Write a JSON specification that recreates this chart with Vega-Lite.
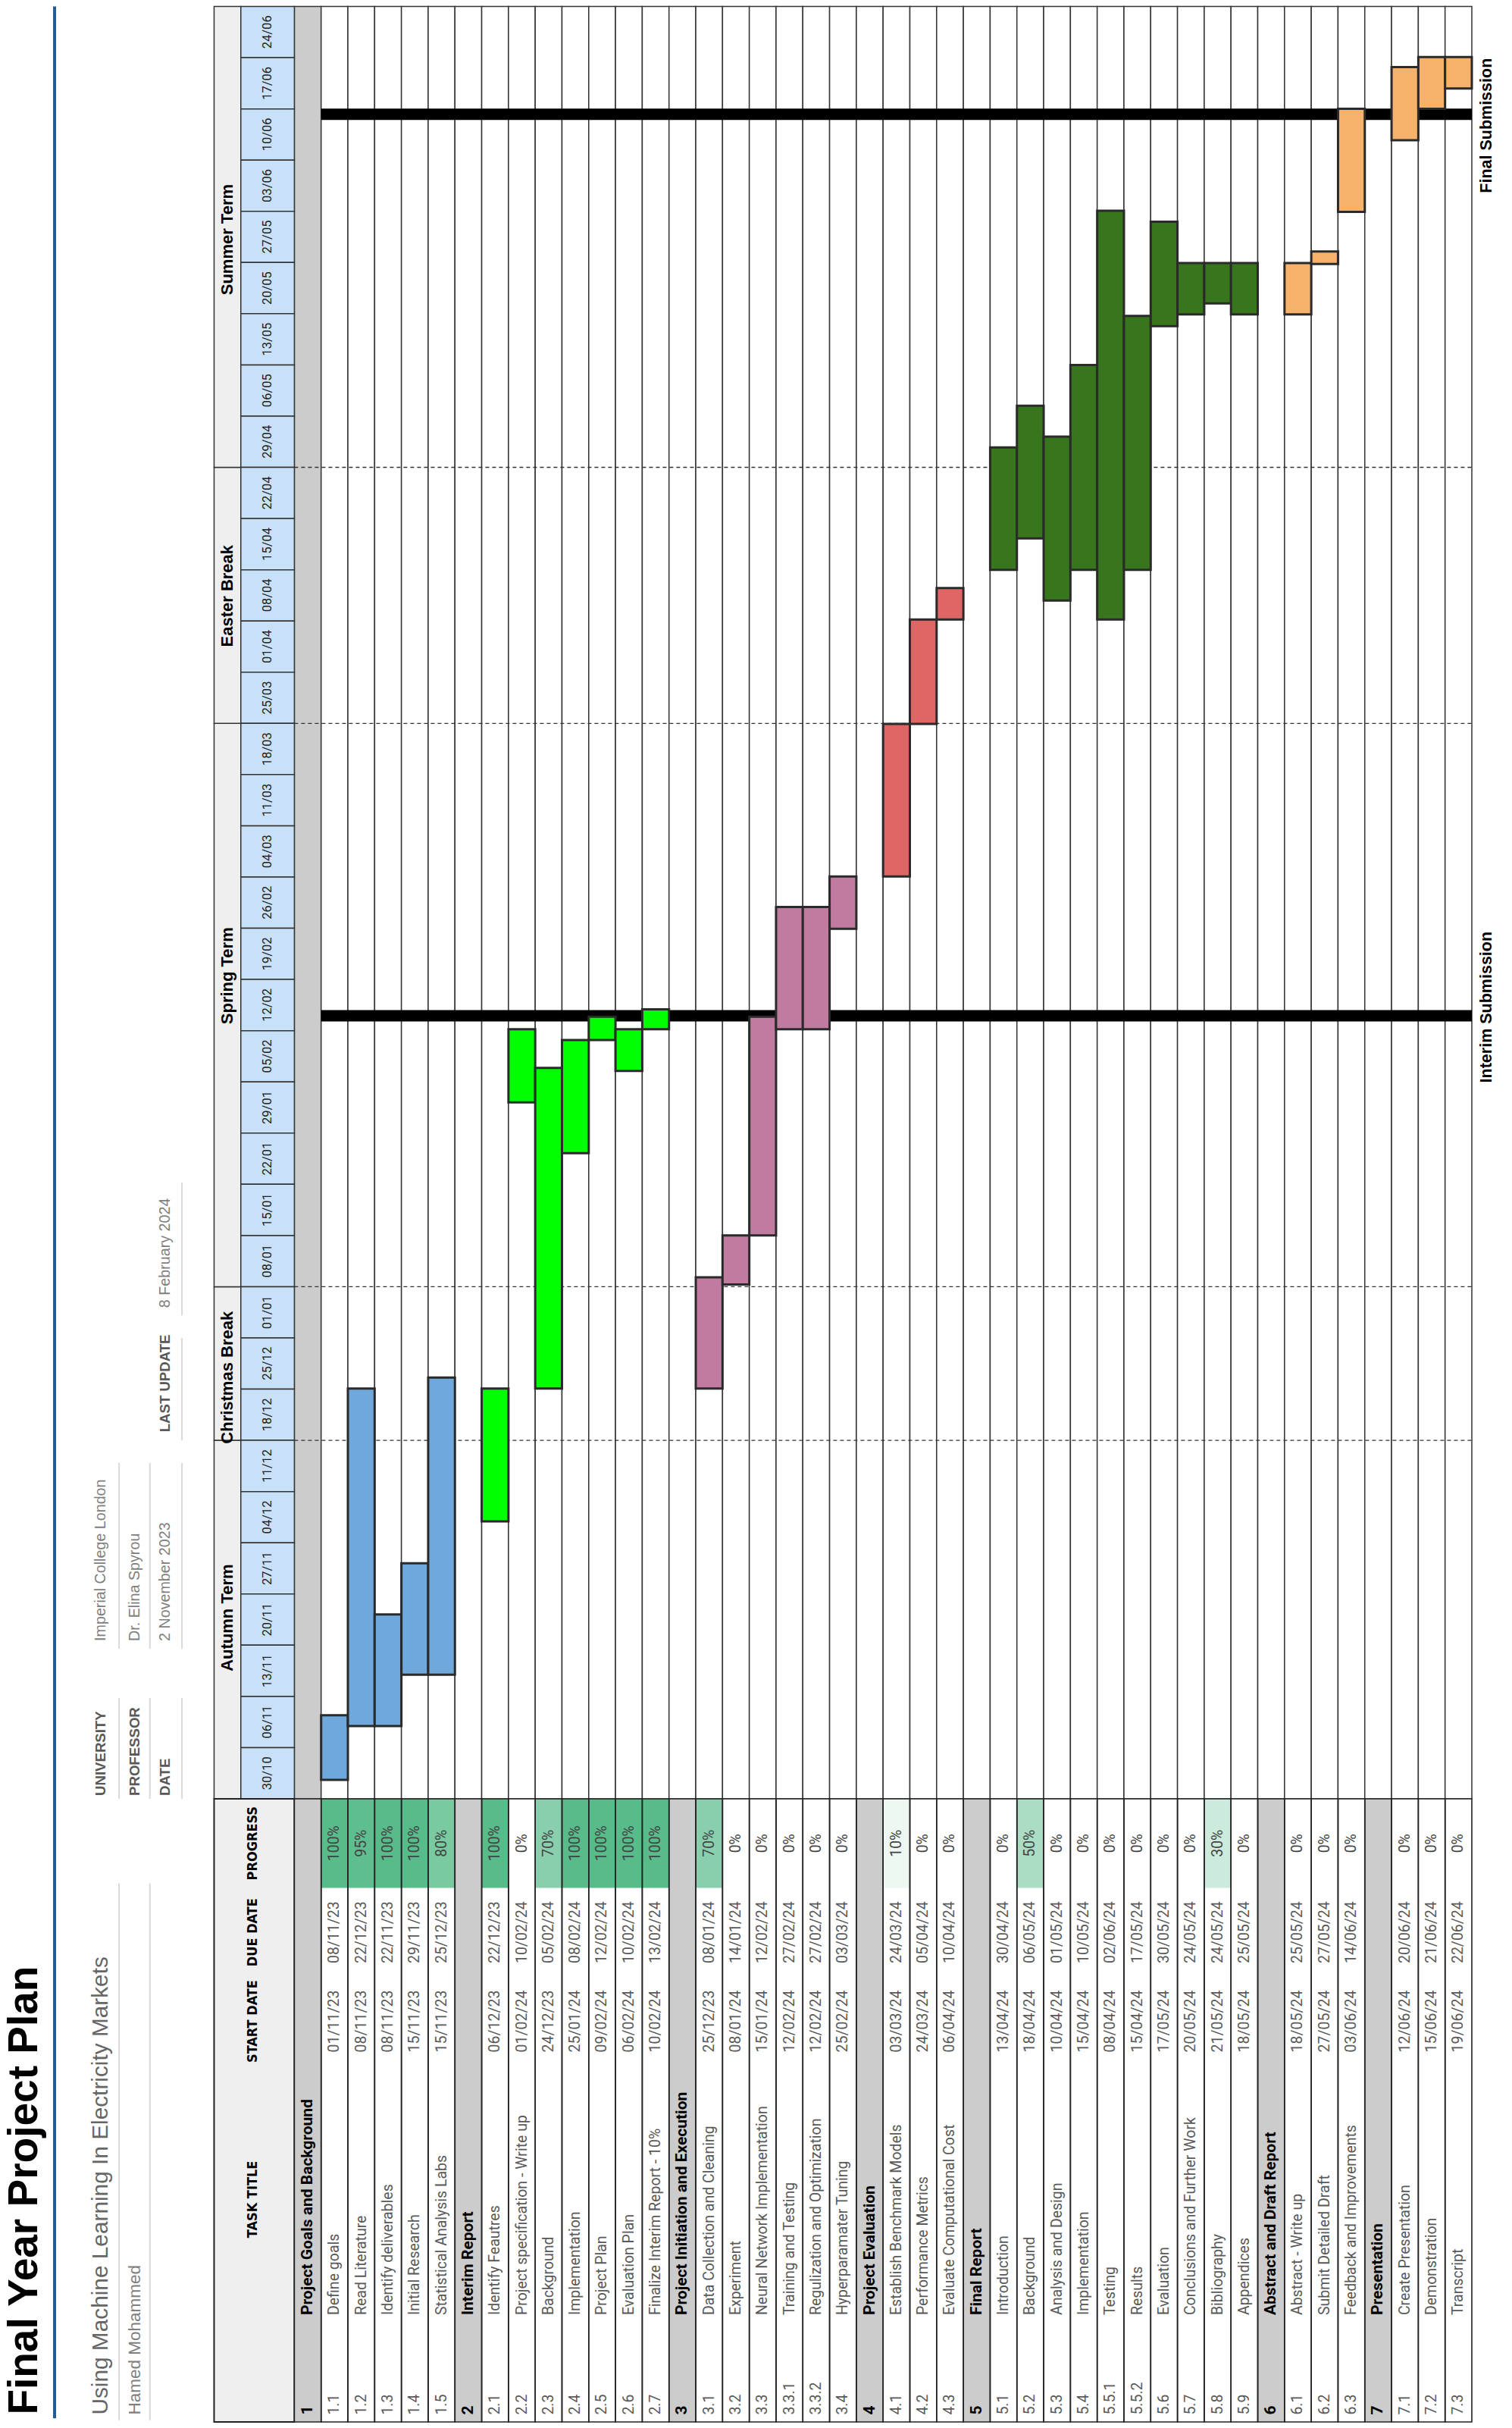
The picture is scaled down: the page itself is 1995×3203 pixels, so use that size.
{
"$schema": "https://vega.github.io/schema/vega-lite/v6.json",
"padding": 0,
"spacing": 0,
"bounds": "flush",
"background": "#ffffff",
"config": {"view": {"stroke": null}, "axis": {"disable": true}, "legend": {"disable": true}, "concat": {"spacing": 0}},
"datasets": {
"rows": [
{"id":"1","type":"section","sec":"1","title":"Project Goals and Background"},
{"id":"1.1","type":"task","sec":"1","title":"Define goals","start":"01/11/23","due":"08/11/23","prog":1,"bs":"2023-11-01T14:00:00Z","be":"2023-11-10T10:00:00Z"},
{"id":"1.2","type":"task","sec":"1","title":"Read Literature","start":"08/11/23","due":"22/12/23","prog":0.95,"bs":"2023-11-08T23:00:00Z","be":"2023-12-25T02:00:00Z"},
{"id":"1.3","type":"task","sec":"1","title":"Identify deliverables","start":"08/11/23","due":"22/11/23","prog":1,"bs":"2023-11-08T23:00:00Z","be":"2023-11-24T05:00:00Z"},
{"id":"1.4","type":"task","sec":"1","title":"Initial Research","start":"15/11/23","due":"29/11/23","prog":1,"bs":"2023-11-15T23:00:00Z","be":"2023-12-01T05:00:00Z"},
{"id":"1.5","type":"task","sec":"1","title":"Statistical Analysis Labs","start":"15/11/23","due":"25/12/23","prog":0.8,"bs":"2023-11-15T23:00:00Z","be":"2023-12-26T14:00:00Z"},
{"id":"2","type":"section","sec":"2","title":"Interim Report"},
{"id":"2.1","type":"task","sec":"2","title":"Identify Feautres","start":"06/12/23","due":"22/12/23","prog":1,"bs":"2023-12-06T22:00:00Z","be":"2023-12-25T02:00:00Z"},
{"id":"2.2","type":"task","sec":"2","title":"Project specification - Write up","start":"01/02/24","due":"10/02/24","prog":0,"bs":"2024-02-02T05:00:00Z","be":"2024-02-12T05:00:00Z"},
{"id":"2.3","type":"task","sec":"2","title":"Background","start":"24/12/23","due":"05/02/24","prog":0.7,"bs":"2023-12-25T02:00:00Z","be":"2024-02-06T22:00:00Z"},
{"id":"2.4","type":"task","sec":"2","title":"Implementation","start":"25/01/24","due":"08/02/24","prog":1,"bs":"2024-01-26T06:00:00Z","be":"2024-02-10T17:00:00Z"},
{"id":"2.5","type":"task","sec":"2","title":"Project Plan","start":"09/02/24","due":"12/02/24","prog":1,"bs":"2024-02-10T17:00:00Z","be":"2024-02-13T22:00:00Z"},
{"id":"2.6","type":"task","sec":"2","title":"Evaluation Plan","start":"06/02/24","due":"10/02/24","prog":1,"bs":"2024-02-06T12:00:00Z","be":"2024-02-12T05:00:00Z"},
{"id":"2.7","type":"task","sec":"2","title":"Finalize Interim Report - 10%","start":"10/02/24","due":"13/02/24","prog":1,"bs":"2024-02-12T05:00:00Z","be":"2024-02-14T22:00:00Z"},
{"id":"3","type":"section","sec":"3","title":"Project Initiation and Execution"},
{"id":"3.1","type":"task","sec":"3","title":"Data Collection and Cleaning","start":"25/12/23","due":"08/01/24","prog":0.7,"bs":"2023-12-25T02:00:00Z","be":"2024-01-09T07:00:00Z"},
{"id":"3.2","type":"task","sec":"3","title":"Experiment","start":"08/01/24","due":"14/01/24","prog":0,"bs":"2024-01-08T07:00:00Z","be":"2024-01-15T00:00:00Z"},
{"id":"3.3","type":"task","sec":"3","title":"Neural Network Implementation","start":"15/01/24","due":"12/02/24","prog":0,"bs":"2024-01-15T00:00:00Z","be":"2024-02-13T22:00:00Z"},
{"id":"3.3.1","type":"task","sec":"3","title":"Training and Testing","start":"12/02/24","due":"27/02/24","prog":0,"bs":"2024-02-12T05:00:00Z","be":"2024-02-28T22:00:00Z"},
{"id":"3.3.2","type":"task","sec":"3","title":"Regulization and Optimization","start":"12/02/24","due":"27/02/24","prog":0,"bs":"2024-02-12T05:00:00Z","be":"2024-02-28T22:00:00Z"},
{"id":"3.4","type":"task","sec":"3","title":"Hyperparamater Tuning","start":"25/02/24","due":"03/03/24","prog":0,"bs":"2024-02-25T22:00:00Z","be":"2024-03-04T02:00:00Z"},
{"id":"4","type":"section","sec":"4","title":"Project Evaluation"},
{"id":"4.1","type":"task","sec":"4","title":"Establish Benchmark Models","start":"03/03/24","due":"24/03/24","prog":0.1,"bs":"2024-03-04T02:00:00Z","be":"2024-03-24T22:00:00Z"},
{"id":"4.2","type":"task","sec":"4","title":"Performance Metrics","start":"24/03/24","due":"05/04/24","prog":0,"bs":"2024-03-24T22:00:00Z","be":"2024-04-08T05:00:00Z"},
{"id":"4.3","type":"task","sec":"4","title":"Evaluate Computational Cost","start":"06/04/24","due":"10/04/24","prog":0,"bs":"2024-04-08T05:00:00Z","be":"2024-04-12T12:00:00Z"},
{"id":"5","type":"section","sec":"5","title":"Final Report"},
{"id":"5.1","type":"task","sec":"5","title":"Introduction","start":"13/04/24","due":"30/04/24","prog":0,"bs":"2024-04-15T00:00:00Z","be":"2024-05-01T17:00:00Z"},
{"id":"5.2","type":"task","sec":"5","title":"Background","start":"18/04/24","due":"06/05/24","prog":0.5,"bs":"2024-04-19T07:00:00Z","be":"2024-05-07T10:00:00Z"},
{"id":"5.3","type":"task","sec":"5","title":"Analysis and Design","start":"10/04/24","due":"01/05/24","prog":0,"bs":"2024-04-10T19:00:00Z","be":"2024-05-03T05:00:00Z"},
{"id":"5.4","type":"task","sec":"5","title":"Implementation","start":"15/04/24","due":"10/05/24","prog":0,"bs":"2024-04-15T00:00:00Z","be":"2024-05-13T00:00:00Z"},
{"id":"5.5.1","type":"task","sec":"5","title":"Testing","start":"08/04/24","due":"02/06/24","prog":0,"bs":"2024-04-08T05:00:00Z","be":"2024-06-03T02:00:00Z"},
{"id":"5.5.2","type":"task","sec":"5","title":"Results","start":"15/04/24","due":"17/05/24","prog":0,"bs":"2024-04-15T00:00:00Z","be":"2024-05-19T17:00:00Z"},
{"id":"5.6","type":"task","sec":"5","title":"Evaluation","start":"17/05/24","due":"30/05/24","prog":0,"bs":"2024-05-18T07:00:00Z","be":"2024-06-01T14:00:00Z"},
{"id":"5.7","type":"task","sec":"5","title":"Conclusions and Further Work","start":"20/05/24","due":"24/05/24","prog":0,"bs":"2024-05-19T22:00:00Z","be":"2024-05-26T22:00:00Z"},
{"id":"5.8","type":"task","sec":"5","title":"Bibliography","start":"21/05/24","due":"24/05/24","prog":0.3,"bs":"2024-05-21T10:00:00Z","be":"2024-05-26T22:00:00Z"},
{"id":"5.9","type":"task","sec":"5","title":"Appendices","start":"18/05/24","due":"25/05/24","prog":0,"bs":"2024-05-19T22:00:00Z","be":"2024-05-26T22:00:00Z"},
{"id":"6","type":"section","sec":"6","title":"Abstract and Draft Report"},
{"id":"6.1","type":"task","sec":"6","title":"Abstract - Write up","start":"18/05/24","due":"25/05/24","prog":0,"bs":"2024-05-19T22:00:00Z","be":"2024-05-26T22:00:00Z"},
{"id":"6.2","type":"task","sec":"6","title":"Submit Detailed Draft","start":"27/05/24","due":"27/05/24","prog":0,"bs":"2024-05-26T19:00:00Z","be":"2024-05-28T12:00:00Z"},
{"id":"6.3","type":"task","sec":"6","title":"Feedback and Improvements","start":"03/06/24","due":"14/06/24","prog":0,"bs":"2024-06-02T22:00:00Z","be":"2024-06-17T00:00:00Z"},
{"id":"7","type":"section","sec":"7","title":"Presentation"},
{"id":"7.1","type":"task","sec":"7","title":"Create Presentation","start":"12/06/24","due":"20/06/24","prog":0,"bs":"2024-06-12T17:00:00Z","be":"2024-06-22T17:00:00Z"},
{"id":"7.2","type":"task","sec":"7","title":"Demonstration","start":"15/06/24","due":"21/06/24","prog":0,"bs":"2024-06-17T00:00:00Z","be":"2024-06-24T02:00:00Z"},
{"id":"7.3","type":"task","sec":"7","title":"Transcript","start":"19/06/24","due":"22/06/24","prog":0,"bs":"2024-06-19T19:00:00Z","be":"2024-06-24T02:00:00Z"}
],
"weeks": [{"wk":"24/06"},{"wk":"17/06"},{"wk":"10/06"},{"wk":"03/06"},{"wk":"27/05"},{"wk":"20/05"},{"wk":"13/05"},{"wk":"06/05"},{"wk":"29/04"},{"wk":"22/04"},{"wk":"15/04"},{"wk":"08/04"},{"wk":"01/04"},{"wk":"25/03"},{"wk":"18/03"},{"wk":"11/03"},{"wk":"04/03"},{"wk":"26/02"},{"wk":"19/02"},{"wk":"12/02"},{"wk":"05/02"},{"wk":"29/01"},{"wk":"22/01"},{"wk":"15/01"},{"wk":"08/01"},{"wk":"01/01"},{"wk":"25/12"},{"wk":"18/12"},{"wk":"11/12"},{"wk":"04/12"},{"wk":"27/11"},{"wk":"20/11"},{"wk":"13/11"},{"wk":"06/11"},{"wk":"30/10"}],
"periods": [
{"name":"Autumn Term","first":"30/10","last":"11/12","lbl":"2023-11-23T18:00:00Z"},
{"name":"Christmas Break","first":"18/12","last":"01/01","lbl":"2023-12-26T14:00:00Z"},
{"name":"Spring Term","first":"08/01","last":"18/03","lbl":"2024-02-19T12:00:00Z"},
{"name":"Easter Break","first":"25/03","last":"22/04","lbl":"2024-04-11T10:00:00Z"},
{"name":"Summer Term","first":"29/04","last":"24/06","lbl":"2024-05-30T03:00:00Z"}
],
"breaks": [{"w":"18/12"},{"w":"08/01"},{"w":"25/03"},{"w":"29/04"}],
"milestones": [{"label":"Interim Submission","d":"2024-02-14T01:00:00Z","ld":"2024-02-15T05:00:00Z"},{"label":"Final Submission","d":"2024-06-16T06:00:00Z","ld":"2024-06-14T17:00:00Z"}],
"info": [{"k":"UNIVERSITY","v":"Imperial College London","line":"1"},{"k":"PROFESSOR","v":"Dr. Elina Spyrou","line":"2"},{"k":"DATE","v":"2 November 2023","line":"3"},{"k":"LAST UPDATE","v":"8 February 2024","line":"4"}],
"seps": [
{"line":"1","from":"2023-10-30T00:00:00Z","to":"2023-11-12T19:00:00Z"},
{"line":"1","from":"2023-11-19T12:00:00Z","to":"2023-12-14T22:00:00Z"},
{"line":"2","from":"2023-10-30T00:00:00Z","to":"2023-11-12T19:00:00Z"},
{"line":"2","from":"2023-11-19T12:00:00Z","to":"2023-12-14T22:00:00Z"},
{"line":"3","from":"2023-10-30T00:00:00Z","to":"2023-11-12T19:00:00Z"},
{"line":"3","from":"2023-11-19T12:00:00Z","to":"2023-12-14T22:00:00Z"},
{"line":"3","from":"2023-12-18T00:00:00Z","to":"2024-01-01T00:00:00Z"},
{"line":"3","from":"2024-01-04T02:00:00Z","to":"2024-01-22T05:00:00Z"}
],
"doc": [{"title":"Final Year Project Plan","sub":"Using Machine Learning In Electricity Markets","author":"Hamed Mohammed"}],
"headers": [{"h":"PROGRESS","s":"progress"},{"h":"DUE DATE","s":"due"},{"h":"START DATE","s":"start"},{"h":"TASK TITLE","s":"t2"}]
},
"vconcat": [
{
"width": 1942, "height": 2373,
"resolve": {"scale": {"y": "independent"}},
"layer": [
{"data":{"name":"rows"},"mark":{"type":"rect","stroke":"#333333","strokeWidth":1.5},
"encoding":{"x":{"field":"id","type":"nominal","scale":{"type":"band","domain":["c0","c1","c2","c3","c4","c5","c6","c7","hP","hW1","hW2","1","1.1","1.2","1.3","1.4","1.5","2","2.1","2.2","2.3","2.4","2.5","2.6","2.7","3","3.1","3.2","3.3","3.3.1","3.3.2","3.4","4","4.1","4.2","4.3","5","5.1","5.2","5.3","5.4","5.5.1","5.5.2","5.6","5.7","5.8","5.9","6","6.1","6.2","6.3","7","7.1","7.2","7.3"],"paddingInner":0,"paddingOuter":0,"round":false}},
"y":{"datum":{"year":2023,"month":10,"date":30,"utc":true},"type":"temporal","scale":{"type":"utc","domain":[{"year":2023,"month":10,"date":30,"utc":true},{"year":2024,"month":7,"date":1,"hours":21,"minutes":8,"utc":true}],"nice":false}},
"y2":{"datum":{"year":2024,"month":7,"date":1,"utc":true}},
"fill":{"condition":{"test":"datum.id === '1'","value":"#cccccc"},"value":"#ffffff"}}},
{"data":{"name":"breaks"},"mark":{"type":"rule","stroke":"#333333","strokeWidth":1.3,"strokeDash":[5,4]},
"encoding":{"x":{"datum":"1","type":"nominal","bandPosition":0,"scale":{"type":"band","domain":["c0","c1","c2","c3","c4","c5","c6","c7","hP","hW1","hW2","1","1.1","1.2","1.3","1.4","1.5","2","2.1","2.2","2.3","2.4","2.5","2.6","2.7","3","3.1","3.2","3.3","3.3.1","3.3.2","3.4","4","4.1","4.2","4.3","5","5.1","5.2","5.3","5.4","5.5.1","5.5.2","5.6","5.7","5.8","5.9","6","6.1","6.2","6.3","7","7.1","7.2","7.3"],"paddingInner":0,"paddingOuter":0,"round":false}},
"x2":{"datum":"7.3","bandPosition":1},
"y":{"field":"w","type":"nominal","bandPosition":1,"scale":{"type":"band","domain":["24/06","17/06","10/06","03/06","27/05","20/05","13/05","06/05","29/04","22/04","15/04","08/04","01/04","25/03","18/03","11/03","04/03","26/02","19/02","12/02","05/02","29/01","22/01","15/01","08/01","01/01","25/12","18/12","11/12","04/12","27/11","20/11","13/11","06/11","30/10"],"paddingInner":0,"paddingOuter":0.063,"align":1,"round":false}}}},
{"data":{"name":"milestones"},"mark":{"type":"rule","stroke":"#000000","strokeWidth":15},
"encoding":{"x":{"datum":"1.1","type":"nominal","bandPosition":0,"scale":{"type":"band","domain":["c0","c1","c2","c3","c4","c5","c6","c7","hP","hW1","hW2","1","1.1","1.2","1.3","1.4","1.5","2","2.1","2.2","2.3","2.4","2.5","2.6","2.7","3","3.1","3.2","3.3","3.3.1","3.3.2","3.4","4","4.1","4.2","4.3","5","5.1","5.2","5.3","5.4","5.5.1","5.5.2","5.6","5.7","5.8","5.9","6","6.1","6.2","6.3","7","7.1","7.2","7.3"],"paddingInner":0,"paddingOuter":0,"round":false}},
"x2":{"datum":"7.3","bandPosition":1},
"y":{"field":"d","type":"temporal","scale":{"type":"utc","domain":[{"year":2023,"month":10,"date":30,"utc":true},{"year":2024,"month":7,"date":1,"hours":21,"minutes":8,"utc":true}],"nice":false}}}},
{"data":{"name":"rows"},"transform":[{"filter":"datum.type === 'task'"}],"mark":{"type":"rect","stroke":"#2a2a2a","strokeWidth":3},
"encoding":{"x":{"field":"id","type":"nominal","scale":{"type":"band","domain":["c0","c1","c2","c3","c4","c5","c6","c7","hP","hW1","hW2","1","1.1","1.2","1.3","1.4","1.5","2","2.1","2.2","2.3","2.4","2.5","2.6","2.7","3","3.1","3.2","3.3","3.3.1","3.3.2","3.4","4","4.1","4.2","4.3","5","5.1","5.2","5.3","5.4","5.5.1","5.5.2","5.6","5.7","5.8","5.9","6","6.1","6.2","6.3","7","7.1","7.2","7.3"],"paddingInner":0,"paddingOuter":0,"round":false}},
"y":{"field":"bs","type":"temporal","scale":{"type":"utc","domain":[{"year":2023,"month":10,"date":30,"utc":true},{"year":2024,"month":7,"date":1,"hours":21,"minutes":8,"utc":true}],"nice":false}},
"y2":{"field":"be"},
"fill":{"field":"sec","type":"nominal","scale":{"domain":["1","2","3","4","5","6","7"],"range":["#6fa8dc","#00ff00","#c27ba0","#e06666","#38761d","#f6b26b","#f6b26b"]},"legend":null}}},
{"data":{"name":"milestones"},"mark":{"type":"text","angle":270,"align":"center","baseline":"middle","font":"Liberation Sans","fontWeight":"bold","fontSize":21.5,"color":"#000000"},
"encoding":{"x":{"datum":"7.3","type":"nominal","bandPosition":1.57,"scale":{"type":"band","domain":["c0","c1","c2","c3","c4","c5","c6","c7","hP","hW1","hW2","1","1.1","1.2","1.3","1.4","1.5","2","2.1","2.2","2.3","2.4","2.5","2.6","2.7","3","3.1","3.2","3.3","3.3.1","3.3.2","3.4","4","4.1","4.2","4.3","5","5.1","5.2","5.3","5.4","5.5.1","5.5.2","5.6","5.7","5.8","5.9","6","6.1","6.2","6.3","7","7.1","7.2","7.3"],"paddingInner":0,"paddingOuter":0,"round":false}},
"y":{"field":"ld","type":"temporal","scale":{"type":"utc","domain":[{"year":2023,"month":10,"date":30,"utc":true},{"year":2024,"month":7,"date":1,"hours":21,"minutes":8,"utc":true}],"nice":false}},
"text":{"field":"label"}}},
{"data":{"name":"periods"},"mark":{"type":"rect","fill":"#efefef","stroke":"#333333","strokeWidth":1.5},
"encoding":{"x":{"datum":"hP","type":"nominal","scale":{"type":"band","domain":["c0","c1","c2","c3","c4","c5","c6","c7","hP","hW1","hW2","1","1.1","1.2","1.3","1.4","1.5","2","2.1","2.2","2.3","2.4","2.5","2.6","2.7","3","3.1","3.2","3.3","3.3.1","3.3.2","3.4","4","4.1","4.2","4.3","5","5.1","5.2","5.3","5.4","5.5.1","5.5.2","5.6","5.7","5.8","5.9","6","6.1","6.2","6.3","7","7.1","7.2","7.3"],"paddingInner":0,"paddingOuter":0,"round":false}},
"y":{"field":"last","type":"nominal","bandPosition":0,"scale":{"type":"band","domain":["24/06","17/06","10/06","03/06","27/05","20/05","13/05","06/05","29/04","22/04","15/04","08/04","01/04","25/03","18/03","11/03","04/03","26/02","19/02","12/02","05/02","29/01","22/01","15/01","08/01","01/01","25/12","18/12","11/12","04/12","27/11","20/11","13/11","06/11","30/10"],"paddingInner":0,"paddingOuter":0.063,"align":1,"round":false}},
"y2":{"field":"first","bandPosition":1}}},
{"data":{"name":"periods"},"mark":{"type":"text","angle":270,"align":"center","baseline":"middle","font":"Liberation Sans","fontWeight":"bold","fontSize":22,"color":"#000000"},
"encoding":{"x":{"datum":"hP","type":"nominal","bandPosition":0.5,"scale":{"type":"band","domain":["c0","c1","c2","c3","c4","c5","c6","c7","hP","hW1","hW2","1","1.1","1.2","1.3","1.4","1.5","2","2.1","2.2","2.3","2.4","2.5","2.6","2.7","3","3.1","3.2","3.3","3.3.1","3.3.2","3.4","4","4.1","4.2","4.3","5","5.1","5.2","5.3","5.4","5.5.1","5.5.2","5.6","5.7","5.8","5.9","6","6.1","6.2","6.3","7","7.1","7.2","7.3"],"paddingInner":0,"paddingOuter":0,"round":false}},
"y":{"field":"lbl","type":"temporal","scale":{"type":"utc","domain":[{"year":2023,"month":10,"date":30,"utc":true},{"year":2024,"month":7,"date":1,"hours":21,"minutes":8,"utc":true}],"nice":false}},
"text":{"field":"name"}}},
{"data":{"name":"weeks"},"mark":{"type":"rect","fill":"#c9e1f8","stroke":"#333333","strokeWidth":1.5},
"encoding":{"x":{"datum":"hW1","type":"nominal","bandPosition":0,"scale":{"type":"band","domain":["c0","c1","c2","c3","c4","c5","c6","c7","hP","hW1","hW2","1","1.1","1.2","1.3","1.4","1.5","2","2.1","2.2","2.3","2.4","2.5","2.6","2.7","3","3.1","3.2","3.3","3.3.1","3.3.2","3.4","4","4.1","4.2","4.3","5","5.1","5.2","5.3","5.4","5.5.1","5.5.2","5.6","5.7","5.8","5.9","6","6.1","6.2","6.3","7","7.1","7.2","7.3"],"paddingInner":0,"paddingOuter":0,"round":false}},
"x2":{"datum":"hW2","bandPosition":1},
"y":{"field":"wk","type":"nominal","scale":{"type":"band","domain":["24/06","17/06","10/06","03/06","27/05","20/05","13/05","06/05","29/04","22/04","15/04","08/04","01/04","25/03","18/03","11/03","04/03","26/02","19/02","12/02","05/02","29/01","22/01","15/01","08/01","01/01","25/12","18/12","11/12","04/12","27/11","20/11","13/11","06/11","30/10"],"paddingInner":0,"paddingOuter":0.063,"align":1,"round":false}}}},
{"data":{"name":"weeks"},"mark":{"type":"text","angle":270,"align":"center","baseline":"middle","font":"Roboto","fontSize":16.5,"color":"#222222"},
"encoding":{"x":{"datum":"hW2","type":"nominal","bandPosition":0,"scale":{"type":"band","domain":["c0","c1","c2","c3","c4","c5","c6","c7","hP","hW1","hW2","1","1.1","1.2","1.3","1.4","1.5","2","2.1","2.2","2.3","2.4","2.5","2.6","2.7","3","3.1","3.2","3.3","3.3.1","3.3.2","3.4","4","4.1","4.2","4.3","5","5.1","5.2","5.3","5.4","5.5.1","5.5.2","5.6","5.7","5.8","5.9","6","6.1","6.2","6.3","7","7.1","7.2","7.3"],"paddingInner":0,"paddingOuter":0,"round":false}},
"y":{"field":"wk","type":"nominal","bandPosition":0.5,"scale":{"type":"band","domain":["24/06","17/06","10/06","03/06","27/05","20/05","13/05","06/05","29/04","22/04","15/04","08/04","01/04","25/03","18/03","11/03","04/03","26/02","19/02","12/02","05/02","29/01","22/01","15/01","08/01","01/01","25/12","18/12","11/12","04/12","27/11","20/11","13/11","06/11","30/10"],"paddingInner":0,"paddingOuter":0.063,"align":1,"round":false}},
"text":{"field":"wk"}}},
{"data":{"name":"doc"},"mark":{"type":"rule","stroke":"#1f5c99","strokeWidth":4},
"encoding":{"x":{"datum":"c2","type":"nominal","bandPosition":0.04,"scale":{"type":"band","domain":["c0","c1","c2","c3","c4","c5","c6","c7","hP","hW1","hW2","1","1.1","1.2","1.3","1.4","1.5","2","2.1","2.2","2.3","2.4","2.5","2.6","2.7","3","3.1","3.2","3.3","3.3.1","3.3.2","3.4","4","4.1","4.2","4.3","5","5.1","5.2","5.3","5.4","5.5.1","5.5.2","5.6","5.7","5.8","5.9","6","6.1","6.2","6.3","7","7.1","7.2","7.3"],"paddingInner":0,"paddingOuter":0,"round":false}},
"y":{"datum":"24/06","type":"nominal","bandPosition":0,"scale":{"type":"band","domain":["24/06","17/06","10/06","03/06","27/05","20/05","13/05","06/05","29/04","22/04","15/04","08/04","01/04","25/03","18/03","11/03","04/03","26/02","19/02","12/02","05/02","29/01","22/01","15/01","08/01","01/01","25/12","18/12","11/12","04/12","27/11","20/11","13/11","06/11","30/10"],"paddingInner":0,"paddingOuter":0.063,"align":1,"round":false}},
"y2":{"datum":"30/10","bandPosition":1}}},
{"data":{"name":"seps"},"transform":[{"filter":"datum.line === '1'"}],"mark":{"type":"rule","stroke":"#d9d9d9","strokeWidth":2},
"encoding":{"x":{"datum":"c4","type":"nominal","bandPosition":0.45,"scale":{"type":"band","domain":["c0","c1","c2","c3","c4","c5","c6","c7","hP","hW1","hW2","1","1.1","1.2","1.3","1.4","1.5","2","2.1","2.2","2.3","2.4","2.5","2.6","2.7","3","3.1","3.2","3.3","3.3.1","3.3.2","3.4","4","4.1","4.2","4.3","5","5.1","5.2","5.3","5.4","5.5.1","5.5.2","5.6","5.7","5.8","5.9","6","6.1","6.2","6.3","7","7.1","7.2","7.3"],"paddingInner":0,"paddingOuter":0,"round":false}},
"y":{"field":"from","type":"temporal","scale":{"type":"utc","domain":[{"year":2023,"month":10,"date":30,"utc":true},{"year":2024,"month":7,"date":1,"hours":21,"minutes":8,"utc":true}],"nice":false}},
"y2":{"field":"to"}}},
{"data":{"name":"seps"},"transform":[{"filter":"datum.line === '2'"}],"mark":{"type":"rule","stroke":"#d9d9d9","strokeWidth":2},
"encoding":{"x":{"datum":"c5","type":"nominal","bandPosition":0.6,"scale":{"type":"band","domain":["c0","c1","c2","c3","c4","c5","c6","c7","hP","hW1","hW2","1","1.1","1.2","1.3","1.4","1.5","2","2.1","2.2","2.3","2.4","2.5","2.6","2.7","3","3.1","3.2","3.3","3.3.1","3.3.2","3.4","4","4.1","4.2","4.3","5","5.1","5.2","5.3","5.4","5.5.1","5.5.2","5.6","5.7","5.8","5.9","6","6.1","6.2","6.3","7","7.1","7.2","7.3"],"paddingInner":0,"paddingOuter":0,"round":false}},
"y":{"field":"from","type":"temporal","scale":{"type":"utc","domain":[{"year":2023,"month":10,"date":30,"utc":true},{"year":2024,"month":7,"date":1,"hours":21,"minutes":8,"utc":true}],"nice":false}},
"y2":{"field":"to"}}},
{"data":{"name":"seps"},"transform":[{"filter":"datum.line === '3'"}],"mark":{"type":"rule","stroke":"#d9d9d9","strokeWidth":2},
"encoding":{"x":{"datum":"c6","type":"nominal","bandPosition":0.8,"scale":{"type":"band","domain":["c0","c1","c2","c3","c4","c5","c6","c7","hP","hW1","hW2","1","1.1","1.2","1.3","1.4","1.5","2","2.1","2.2","2.3","2.4","2.5","2.6","2.7","3","3.1","3.2","3.3","3.3.1","3.3.2","3.4","4","4.1","4.2","4.3","5","5.1","5.2","5.3","5.4","5.5.1","5.5.2","5.6","5.7","5.8","5.9","6","6.1","6.2","6.3","7","7.1","7.2","7.3"],"paddingInner":0,"paddingOuter":0,"round":false}},
"y":{"field":"from","type":"temporal","scale":{"type":"utc","domain":[{"year":2023,"month":10,"date":30,"utc":true},{"year":2024,"month":7,"date":1,"hours":21,"minutes":8,"utc":true}],"nice":false}},
"y2":{"field":"to"}}},
{"data":{"name":"info"},"transform":[{"filter":"datum.line === '1'"}],"mark":{"type":"text","angle":270,"align":"left","baseline":"middle","font":"Liberation Sans","fontWeight":"bold","fontSize":18.6,"color":"#595959"},
"encoding":{"x":{"datum":"c3","type":"nominal","bandPosition":0.76,"scale":{"type":"band","domain":["c0","c1","c2","c3","c4","c5","c6","c7","hP","hW1","hW2","1","1.1","1.2","1.3","1.4","1.5","2","2.1","2.2","2.3","2.4","2.5","2.6","2.7","3","3.1","3.2","3.3","3.3.1","3.3.2","3.4","4","4.1","4.2","4.3","5","5.1","5.2","5.3","5.4","5.5.1","5.5.2","5.6","5.7","5.8","5.9","6","6.1","6.2","6.3","7","7.1","7.2","7.3"],"paddingInner":0,"paddingOuter":0,"round":false}},
"y":{"datum":"30/10","type":"nominal","bandPosition":0.94,"scale":{"type":"band","domain":["24/06","17/06","10/06","03/06","27/05","20/05","13/05","06/05","29/04","22/04","15/04","08/04","01/04","25/03","18/03","11/03","04/03","26/02","19/02","12/02","05/02","29/01","22/01","15/01","08/01","01/01","25/12","18/12","11/12","04/12","27/11","20/11","13/11","06/11","30/10"],"paddingInner":0,"paddingOuter":0.063,"align":1,"round":false}},
"text":{"field":"k"}}},
{"data":{"name":"info"},"transform":[{"filter":"datum.line === '1'"}],"mark":{"type":"text","angle":270,"align":"left","baseline":"middle","font":"Liberation Sans","fontSize":19.7,"color":"#7f7f7f"},
"encoding":{"x":{"datum":"c3","type":"nominal","bandPosition":0.76,"scale":{"type":"band","domain":["c0","c1","c2","c3","c4","c5","c6","c7","hP","hW1","hW2","1","1.1","1.2","1.3","1.4","1.5","2","2.1","2.2","2.3","2.4","2.5","2.6","2.7","3","3.1","3.2","3.3","3.3.1","3.3.2","3.4","4","4.1","4.2","4.3","5","5.1","5.2","5.3","5.4","5.5.1","5.5.2","5.6","5.7","5.8","5.9","6","6.1","6.2","6.3","7","7.1","7.2","7.3"],"paddingInner":0,"paddingOuter":0,"round":false}},
"y":{"datum":"20/11","type":"nominal","bandPosition":0.92,"scale":{"type":"band","domain":["24/06","17/06","10/06","03/06","27/05","20/05","13/05","06/05","29/04","22/04","15/04","08/04","01/04","25/03","18/03","11/03","04/03","26/02","19/02","12/02","05/02","29/01","22/01","15/01","08/01","01/01","25/12","18/12","11/12","04/12","27/11","20/11","13/11","06/11","30/10"],"paddingInner":0,"paddingOuter":0.063,"align":1,"round":false}},
"text":{"field":"v"}}},
{"data":{"name":"info"},"transform":[{"filter":"datum.line === '2'"}],"mark":{"type":"text","angle":270,"align":"left","baseline":"middle","font":"Liberation Sans","fontWeight":"bold","fontSize":18.6,"color":"#595959"},
"encoding":{"x":{"datum":"c5","type":"nominal","bandPosition":0.05,"scale":{"type":"band","domain":["c0","c1","c2","c3","c4","c5","c6","c7","hP","hW1","hW2","1","1.1","1.2","1.3","1.4","1.5","2","2.1","2.2","2.3","2.4","2.5","2.6","2.7","3","3.1","3.2","3.3","3.3.1","3.3.2","3.4","4","4.1","4.2","4.3","5","5.1","5.2","5.3","5.4","5.5.1","5.5.2","5.6","5.7","5.8","5.9","6","6.1","6.2","6.3","7","7.1","7.2","7.3"],"paddingInner":0,"paddingOuter":0,"round":false}},
"y":{"datum":"30/10","type":"nominal","bandPosition":0.94,"scale":{"type":"band","domain":["24/06","17/06","10/06","03/06","27/05","20/05","13/05","06/05","29/04","22/04","15/04","08/04","01/04","25/03","18/03","11/03","04/03","26/02","19/02","12/02","05/02","29/01","22/01","15/01","08/01","01/01","25/12","18/12","11/12","04/12","27/11","20/11","13/11","06/11","30/10"],"paddingInner":0,"paddingOuter":0.063,"align":1,"round":false}},
"text":{"field":"k"}}},
{"data":{"name":"info"},"transform":[{"filter":"datum.line === '2'"}],"mark":{"type":"text","angle":270,"align":"left","baseline":"middle","font":"Liberation Sans","fontSize":19.7,"color":"#7f7f7f"},
"encoding":{"x":{"datum":"c5","type":"nominal","bandPosition":0.05,"scale":{"type":"band","domain":["c0","c1","c2","c3","c4","c5","c6","c7","hP","hW1","hW2","1","1.1","1.2","1.3","1.4","1.5","2","2.1","2.2","2.3","2.4","2.5","2.6","2.7","3","3.1","3.2","3.3","3.3.1","3.3.2","3.4","4","4.1","4.2","4.3","5","5.1","5.2","5.3","5.4","5.5.1","5.5.2","5.6","5.7","5.8","5.9","6","6.1","6.2","6.3","7","7.1","7.2","7.3"],"paddingInner":0,"paddingOuter":0,"round":false}},
"y":{"datum":"20/11","type":"nominal","bandPosition":0.92,"scale":{"type":"band","domain":["24/06","17/06","10/06","03/06","27/05","20/05","13/05","06/05","29/04","22/04","15/04","08/04","01/04","25/03","18/03","11/03","04/03","26/02","19/02","12/02","05/02","29/01","22/01","15/01","08/01","01/01","25/12","18/12","11/12","04/12","27/11","20/11","13/11","06/11","30/10"],"paddingInner":0,"paddingOuter":0.063,"align":1,"round":false}},
"text":{"field":"v"}}},
{"data":{"name":"info"},"transform":[{"filter":"datum.line === '3'"}],"mark":{"type":"text","angle":270,"align":"left","baseline":"middle","font":"Liberation Sans","fontWeight":"bold","fontSize":18.6,"color":"#595959"},
"encoding":{"x":{"datum":"c6","type":"nominal","bandPosition":0.17,"scale":{"type":"band","domain":["c0","c1","c2","c3","c4","c5","c6","c7","hP","hW1","hW2","1","1.1","1.2","1.3","1.4","1.5","2","2.1","2.2","2.3","2.4","2.5","2.6","2.7","3","3.1","3.2","3.3","3.3.1","3.3.2","3.4","4","4.1","4.2","4.3","5","5.1","5.2","5.3","5.4","5.5.1","5.5.2","5.6","5.7","5.8","5.9","6","6.1","6.2","6.3","7","7.1","7.2","7.3"],"paddingInner":0,"paddingOuter":0,"round":false}},
"y":{"datum":"30/10","type":"nominal","bandPosition":0.94,"scale":{"type":"band","domain":["24/06","17/06","10/06","03/06","27/05","20/05","13/05","06/05","29/04","22/04","15/04","08/04","01/04","25/03","18/03","11/03","04/03","26/02","19/02","12/02","05/02","29/01","22/01","15/01","08/01","01/01","25/12","18/12","11/12","04/12","27/11","20/11","13/11","06/11","30/10"],"paddingInner":0,"paddingOuter":0.063,"align":1,"round":false}},
"text":{"field":"k"}}},
{"data":{"name":"info"},"transform":[{"filter":"datum.line === '3'"}],"mark":{"type":"text","angle":270,"align":"left","baseline":"middle","font":"Liberation Sans","fontSize":19.7,"color":"#7f7f7f"},
"encoding":{"x":{"datum":"c6","type":"nominal","bandPosition":0.17,"scale":{"type":"band","domain":["c0","c1","c2","c3","c4","c5","c6","c7","hP","hW1","hW2","1","1.1","1.2","1.3","1.4","1.5","2","2.1","2.2","2.3","2.4","2.5","2.6","2.7","3","3.1","3.2","3.3","3.3.1","3.3.2","3.4","4","4.1","4.2","4.3","5","5.1","5.2","5.3","5.4","5.5.1","5.5.2","5.6","5.7","5.8","5.9","6","6.1","6.2","6.3","7","7.1","7.2","7.3"],"paddingInner":0,"paddingOuter":0,"round":false}},
"y":{"datum":"20/11","type":"nominal","bandPosition":0.92,"scale":{"type":"band","domain":["24/06","17/06","10/06","03/06","27/05","20/05","13/05","06/05","29/04","22/04","15/04","08/04","01/04","25/03","18/03","11/03","04/03","26/02","19/02","12/02","05/02","29/01","22/01","15/01","08/01","01/01","25/12","18/12","11/12","04/12","27/11","20/11","13/11","06/11","30/10"],"paddingInner":0,"paddingOuter":0.063,"align":1,"round":false}},
"text":{"field":"v"}}},
{"data":{"name":"info"},"transform":[{"filter":"datum.line === '4'"}],"mark":{"type":"text","angle":270,"align":"left","baseline":"middle","font":"Liberation Sans","fontWeight":"bold","fontSize":18.6,"color":"#595959"},
"encoding":{"x":{"datum":"c6","type":"nominal","bandPosition":0.17,"scale":{"type":"band","domain":["c0","c1","c2","c3","c4","c5","c6","c7","hP","hW1","hW2","1","1.1","1.2","1.3","1.4","1.5","2","2.1","2.2","2.3","2.4","2.5","2.6","2.7","3","3.1","3.2","3.3","3.3.1","3.3.2","3.4","4","4.1","4.2","4.3","5","5.1","5.2","5.3","5.4","5.5.1","5.5.2","5.6","5.7","5.8","5.9","6","6.1","6.2","6.3","7","7.1","7.2","7.3"],"paddingInner":0,"paddingOuter":0,"round":false}},
"y":{"datum":"18/12","type":"nominal","bandPosition":0.84,"scale":{"type":"band","domain":["24/06","17/06","10/06","03/06","27/05","20/05","13/05","06/05","29/04","22/04","15/04","08/04","01/04","25/03","18/03","11/03","04/03","26/02","19/02","12/02","05/02","29/01","22/01","15/01","08/01","01/01","25/12","18/12","11/12","04/12","27/11","20/11","13/11","06/11","30/10"],"paddingInner":0,"paddingOuter":0.063,"align":1,"round":false}},
"text":{"field":"k"}}},
{"data":{"name":"info"},"transform":[{"filter":"datum.line === '4'"}],"mark":{"type":"text","angle":270,"align":"left","baseline":"middle","font":"Liberation Sans","fontSize":19.7,"color":"#7f7f7f"},
"encoding":{"x":{"datum":"c6","type":"nominal","bandPosition":0.17,"scale":{"type":"band","domain":["c0","c1","c2","c3","c4","c5","c6","c7","hP","hW1","hW2","1","1.1","1.2","1.3","1.4","1.5","2","2.1","2.2","2.3","2.4","2.5","2.6","2.7","3","3.1","3.2","3.3","3.3.1","3.3.2","3.4","4","4.1","4.2","4.3","5","5.1","5.2","5.3","5.4","5.5.1","5.5.2","5.6","5.7","5.8","5.9","6","6.1","6.2","6.3","7","7.1","7.2","7.3"],"paddingInner":0,"paddingOuter":0,"round":false}},
"y":{"datum":"01/01","type":"nominal","bandPosition":0.41,"scale":{"type":"band","domain":["24/06","17/06","10/06","03/06","27/05","20/05","13/05","06/05","29/04","22/04","15/04","08/04","01/04","25/03","18/03","11/03","04/03","26/02","19/02","12/02","05/02","29/01","22/01","15/01","08/01","01/01","25/12","18/12","11/12","04/12","27/11","20/11","13/11","06/11","30/10"],"paddingInner":0,"paddingOuter":0.063,"align":1,"round":false}},
"text":{"field":"v"}}}
]
},
{
"width": 1942, "height": 822,
"layer": [
{"data":{"name":"doc"},"mark":{"type":"rect","fill":"#efefef","stroke":"#222222","strokeWidth":2},
"encoding":{"x":{"datum":"hP","type":"nominal","bandPosition":0,"scale":{"type":"band","domain":["c0","c1","c2","c3","c4","c5","c6","c7","hP","hW1","hW2","1","1.1","1.2","1.3","1.4","1.5","2","2.1","2.2","2.3","2.4","2.5","2.6","2.7","3","3.1","3.2","3.3","3.3.1","3.3.2","3.4","4","4.1","4.2","4.3","5","5.1","5.2","5.3","5.4","5.5.1","5.5.2","5.6","5.7","5.8","5.9","6","6.1","6.2","6.3","7","7.1","7.2","7.3"],"paddingInner":0,"paddingOuter":0,"round":false}},
"x2":{"datum":"hW2","bandPosition":1},
"y":{"datum":"progress","type":"nominal","bandPosition":0,"scale":{"type":"band","domain":["progress","due","start","t1","t2","t3","num"],"paddingInner":0,"paddingOuter":0,"round":false}},
"y2":{"datum":"num","bandPosition":1}}},
{"data":{"name":"headers"},"mark":{"type":"text","angle":270,"align":"center","baseline":"middle","font":"Liberation Sans Narrow, DejaVu Sans Condensed, sans-serif","fontWeight":"bold","fontSize":18,"color":"#000000"},
"encoding":{"x":{"datum":"hW1","type":"nominal","bandPosition":0.45,"scale":{"type":"band","domain":["c0","c1","c2","c3","c4","c5","c6","c7","hP","hW1","hW2","1","1.1","1.2","1.3","1.4","1.5","2","2.1","2.2","2.3","2.4","2.5","2.6","2.7","3","3.1","3.2","3.3","3.3.1","3.3.2","3.4","4","4.1","4.2","4.3","5","5.1","5.2","5.3","5.4","5.5.1","5.5.2","5.6","5.7","5.8","5.9","6","6.1","6.2","6.3","7","7.1","7.2","7.3"],"paddingInner":0,"paddingOuter":0,"round":false}},
"y":{"field":"s","type":"nominal","bandPosition":0.5,"scale":{"type":"band","domain":["progress","due","start","t1","t2","t3","num"],"paddingInner":0,"paddingOuter":0,"round":false}},
"text":{"field":"h"}}},
{"data":{"name":"rows"},"mark":{"type":"rect","strokeWidth":0},
"encoding":{"x":{"field":"id","type":"nominal","scale":{"type":"band","domain":["c0","c1","c2","c3","c4","c5","c6","c7","hP","hW1","hW2","1","1.1","1.2","1.3","1.4","1.5","2","2.1","2.2","2.3","2.4","2.5","2.6","2.7","3","3.1","3.2","3.3","3.3.1","3.3.2","3.4","4","4.1","4.2","4.3","5","5.1","5.2","5.3","5.4","5.5.1","5.5.2","5.6","5.7","5.8","5.9","6","6.1","6.2","6.3","7","7.1","7.2","7.3"],"paddingInner":0,"paddingOuter":0,"round":false}},
"y":{"datum":"progress","type":"nominal","bandPosition":0,"scale":{"type":"band","domain":["progress","due","start","t1","t2","t3","num"],"paddingInner":0,"paddingOuter":0,"round":false}},
"y2":{"datum":"num","bandPosition":1},
"fill":{"condition":{"test":"datum.type === 'section'","value":"#cccccc"},"value":"#ffffff"}}},
{"data":{"name":"rows"},"transform":[{"filter":"datum.type === 'task'"}],"mark":{"type":"rect","strokeWidth":0},
"encoding":{"x":{"field":"id","type":"nominal","scale":{"type":"band","domain":["c0","c1","c2","c3","c4","c5","c6","c7","hP","hW1","hW2","1","1.1","1.2","1.3","1.4","1.5","2","2.1","2.2","2.3","2.4","2.5","2.6","2.7","3","3.1","3.2","3.3","3.3.1","3.3.2","3.4","4","4.1","4.2","4.3","5","5.1","5.2","5.3","5.4","5.5.1","5.5.2","5.6","5.7","5.8","5.9","6","6.1","6.2","6.3","7","7.1","7.2","7.3"],"paddingInner":0,"paddingOuter":0,"round":false}},
"y":{"datum":"progress","type":"nominal","scale":{"type":"band","domain":["progress","due","start","t1","t2","t3","num"],"paddingInner":0,"paddingOuter":0,"round":false}},
"fill":{"field":"prog","type":"quantitative","scale":{"type":"linear","domain":[0,1],"range":["#ffffff","#57bb8a"],"interpolate":"rgb"},"legend":null}}},
{"data":{"name":"rows"},"mark":{"type":"rect","fill":null,"fillOpacity":0,"stroke":"#222222","strokeWidth":1.6},
"encoding":{"x":{"field":"id","type":"nominal","scale":{"type":"band","domain":["c0","c1","c2","c3","c4","c5","c6","c7","hP","hW1","hW2","1","1.1","1.2","1.3","1.4","1.5","2","2.1","2.2","2.3","2.4","2.5","2.6","2.7","3","3.1","3.2","3.3","3.3.1","3.3.2","3.4","4","4.1","4.2","4.3","5","5.1","5.2","5.3","5.4","5.5.1","5.5.2","5.6","5.7","5.8","5.9","6","6.1","6.2","6.3","7","7.1","7.2","7.3"],"paddingInner":0,"paddingOuter":0,"round":false}},
"y":{"datum":"progress","type":"nominal","bandPosition":0,"scale":{"type":"band","domain":["progress","due","start","t1","t2","t3","num"],"paddingInner":0,"paddingOuter":0,"round":false}},
"y2":{"datum":"num","bandPosition":1}}},
{"data":{"name":"rows"},"transform":[{"filter":"datum.type === 'section'"}],"mark":{"type":"text","angle":270,"align":"left","baseline":"middle","font":"Roboto","fontWeight":"bold","fontSize":21,"color":"#000000"},
"encoding":{"x":{"field":"id","type":"nominal","bandPosition":0.5,"scale":{"type":"band","domain":["c0","c1","c2","c3","c4","c5","c6","c7","hP","hW1","hW2","1","1.1","1.2","1.3","1.4","1.5","2","2.1","2.2","2.3","2.4","2.5","2.6","2.7","3","3.1","3.2","3.3","3.3.1","3.3.2","3.4","4","4.1","4.2","4.3","5","5.1","5.2","5.3","5.4","5.5.1","5.5.2","5.6","5.7","5.8","5.9","6","6.1","6.2","6.3","7","7.1","7.2","7.3"],"paddingInner":0,"paddingOuter":0,"round":false}},
"y":{"datum":"num","type":"nominal","bandPosition":0.92,"scale":{"type":"band","domain":["progress","due","start","t1","t2","t3","num"],"paddingInner":0,"paddingOuter":0,"round":false}},
"text":{"field":"id"}}},
{"data":{"name":"rows"},"transform":[{"filter":"datum.type === 'section'"}],"mark":{"type":"text","angle":270,"align":"left","baseline":"middle","font":"Roboto","fontWeight":"bold","fontSize":21,"color":"#000000"},
"encoding":{"x":{"field":"id","type":"nominal","bandPosition":0.5,"scale":{"type":"band","domain":["c0","c1","c2","c3","c4","c5","c6","c7","hP","hW1","hW2","1","1.1","1.2","1.3","1.4","1.5","2","2.1","2.2","2.3","2.4","2.5","2.6","2.7","3","3.1","3.2","3.3","3.3.1","3.3.2","3.4","4","4.1","4.2","4.3","5","5.1","5.2","5.3","5.4","5.5.1","5.5.2","5.6","5.7","5.8","5.9","6","6.1","6.2","6.3","7","7.1","7.2","7.3"],"paddingInner":0,"paddingOuter":0,"round":false}},
"y":{"datum":"t3","type":"nominal","bandPosition":0.8,"scale":{"type":"band","domain":["progress","due","start","t1","t2","t3","num"],"paddingInner":0,"paddingOuter":0,"round":false}},
"text":{"field":"title"}}},
{"data":{"name":"rows"},"transform":[{"filter":"datum.type === 'task'"}],"mark":{"type":"text","angle":270,"align":"left","baseline":"middle","font":"Roboto","fontSize":19.5,"color":"#595959"},
"encoding":{"x":{"field":"id","type":"nominal","bandPosition":0.5,"scale":{"type":"band","domain":["c0","c1","c2","c3","c4","c5","c6","c7","hP","hW1","hW2","1","1.1","1.2","1.3","1.4","1.5","2","2.1","2.2","2.3","2.4","2.5","2.6","2.7","3","3.1","3.2","3.3","3.3.1","3.3.2","3.4","4","4.1","4.2","4.3","5","5.1","5.2","5.3","5.4","5.5.1","5.5.2","5.6","5.7","5.8","5.9","6","6.1","6.2","6.3","7","7.1","7.2","7.3"],"paddingInner":0,"paddingOuter":0,"round":false}},
"y":{"datum":"num","type":"nominal","bandPosition":0.92,"scale":{"type":"band","domain":["progress","due","start","t1","t2","t3","num"],"paddingInner":0,"paddingOuter":0,"round":false}},
"text":{"field":"id"}}},
{"data":{"name":"rows"},"transform":[{"filter":"datum.type === 'task'"}],"mark":{"type":"text","angle":270,"align":"left","baseline":"middle","font":"Roboto","fontSize":19.5,"color":"#595959"},
"encoding":{"x":{"field":"id","type":"nominal","bandPosition":0.5,"scale":{"type":"band","domain":["c0","c1","c2","c3","c4","c5","c6","c7","hP","hW1","hW2","1","1.1","1.2","1.3","1.4","1.5","2","2.1","2.2","2.3","2.4","2.5","2.6","2.7","3","3.1","3.2","3.3","3.3.1","3.3.2","3.4","4","4.1","4.2","4.3","5","5.1","5.2","5.3","5.4","5.5.1","5.5.2","5.6","5.7","5.8","5.9","6","6.1","6.2","6.3","7","7.1","7.2","7.3"],"paddingInner":0,"paddingOuter":0,"round":false}},
"y":{"datum":"t3","type":"nominal","bandPosition":0.8,"scale":{"type":"band","domain":["progress","due","start","t1","t2","t3","num"],"paddingInner":0,"paddingOuter":0,"round":false}},
"text":{"field":"title"}}},
{"data":{"name":"rows"},"transform":[{"filter":"datum.type === 'task'"}],"mark":{"type":"text","angle":270,"align":"center","baseline":"middle","font":"Roboto","fontSize":19.5,"color":"#595959"},
"encoding":{"x":{"field":"id","type":"nominal","bandPosition":0.5,"scale":{"type":"band","domain":["c0","c1","c2","c3","c4","c5","c6","c7","hP","hW1","hW2","1","1.1","1.2","1.3","1.4","1.5","2","2.1","2.2","2.3","2.4","2.5","2.6","2.7","3","3.1","3.2","3.3","3.3.1","3.3.2","3.4","4","4.1","4.2","4.3","5","5.1","5.2","5.3","5.4","5.5.1","5.5.2","5.6","5.7","5.8","5.9","6","6.1","6.2","6.3","7","7.1","7.2","7.3"],"paddingInner":0,"paddingOuter":0,"round":false}},
"y":{"datum":"start","type":"nominal","bandPosition":0.5,"scale":{"type":"band","domain":["progress","due","start","t1","t2","t3","num"],"paddingInner":0,"paddingOuter":0,"round":false}},
"text":{"field":"start"}}},
{"data":{"name":"rows"},"transform":[{"filter":"datum.type === 'task'"}],"mark":{"type":"text","angle":270,"align":"center","baseline":"middle","font":"Roboto","fontSize":19.5,"color":"#595959"},
"encoding":{"x":{"field":"id","type":"nominal","bandPosition":0.5,"scale":{"type":"band","domain":["c0","c1","c2","c3","c4","c5","c6","c7","hP","hW1","hW2","1","1.1","1.2","1.3","1.4","1.5","2","2.1","2.2","2.3","2.4","2.5","2.6","2.7","3","3.1","3.2","3.3","3.3.1","3.3.2","3.4","4","4.1","4.2","4.3","5","5.1","5.2","5.3","5.4","5.5.1","5.5.2","5.6","5.7","5.8","5.9","6","6.1","6.2","6.3","7","7.1","7.2","7.3"],"paddingInner":0,"paddingOuter":0,"round":false}},
"y":{"datum":"due","type":"nominal","bandPosition":0.5,"scale":{"type":"band","domain":["progress","due","start","t1","t2","t3","num"],"paddingInner":0,"paddingOuter":0,"round":false}},
"text":{"field":"due"}}},
{"data":{"name":"rows"},"transform":[{"filter":"datum.type === 'task'"}],"mark":{"type":"text","angle":270,"align":"center","baseline":"middle","font":"Roboto","fontSize":19.5,"color":"#434343"},
"encoding":{"x":{"field":"id","type":"nominal","bandPosition":0.5,"scale":{"type":"band","domain":["c0","c1","c2","c3","c4","c5","c6","c7","hP","hW1","hW2","1","1.1","1.2","1.3","1.4","1.5","2","2.1","2.2","2.3","2.4","2.5","2.6","2.7","3","3.1","3.2","3.3","3.3.1","3.3.2","3.4","4","4.1","4.2","4.3","5","5.1","5.2","5.3","5.4","5.5.1","5.5.2","5.6","5.7","5.8","5.9","6","6.1","6.2","6.3","7","7.1","7.2","7.3"],"paddingInner":0,"paddingOuter":0,"round":false}},
"y":{"datum":"progress","type":"nominal","bandPosition":0.5,"scale":{"type":"band","domain":["progress","due","start","t1","t2","t3","num"],"paddingInner":0,"paddingOuter":0,"round":false}},
"text":{"field":"prog","type":"quantitative","format":".0%"}}},
{"data":{"name":"doc"},"mark":{"type":"rule","stroke":"#1f5c99","strokeWidth":4},
"encoding":{"x":{"datum":"c2","type":"nominal","bandPosition":0.04,"scale":{"type":"band","domain":["c0","c1","c2","c3","c4","c5","c6","c7","hP","hW1","hW2","1","1.1","1.2","1.3","1.4","1.5","2","2.1","2.2","2.3","2.4","2.5","2.6","2.7","3","3.1","3.2","3.3","3.3.1","3.3.2","3.4","4","4.1","4.2","4.3","5","5.1","5.2","5.3","5.4","5.5.1","5.5.2","5.6","5.7","5.8","5.9","6","6.1","6.2","6.3","7","7.1","7.2","7.3"],"paddingInner":0,"paddingOuter":0,"round":false}},
"y":{"datum":"progress","type":"nominal","bandPosition":0,"scale":{"type":"band","domain":["progress","due","start","t1","t2","t3","num"],"paddingInner":0,"paddingOuter":0,"round":false}},
"y2":{"datum":"num","bandPosition":0.96}}},
{"data":{"name":"doc"},"mark":{"type":"rule","stroke":"#d9d9d9","strokeWidth":2},
"encoding":{"x":{"datum":"c4","type":"nominal","bandPosition":0.45,"scale":{"type":"band","domain":["c0","c1","c2","c3","c4","c5","c6","c7","hP","hW1","hW2","1","1.1","1.2","1.3","1.4","1.5","2","2.1","2.2","2.3","2.4","2.5","2.6","2.7","3","3.1","3.2","3.3","3.3.1","3.3.2","3.4","4","4.1","4.2","4.3","5","5.1","5.2","5.3","5.4","5.5.1","5.5.2","5.6","5.7","5.8","5.9","6","6.1","6.2","6.3","7","7.1","7.2","7.3"],"paddingInner":0,"paddingOuter":0,"round":false}},
"y":{"datum":"progress","type":"nominal","bandPosition":0.95,"scale":{"type":"band","domain":["progress","due","start","t1","t2","t3","num"],"paddingInner":0,"paddingOuter":0,"round":false}},
"y2":{"datum":"num","bandPosition":0.98}}},
{"data":{"name":"doc"},"mark":{"type":"rule","stroke":"#d9d9d9","strokeWidth":2},
"encoding":{"x":{"datum":"c5","type":"nominal","bandPosition":0.6,"scale":{"type":"band","domain":["c0","c1","c2","c3","c4","c5","c6","c7","hP","hW1","hW2","1","1.1","1.2","1.3","1.4","1.5","2","2.1","2.2","2.3","2.4","2.5","2.6","2.7","3","3.1","3.2","3.3","3.3.1","3.3.2","3.4","4","4.1","4.2","4.3","5","5.1","5.2","5.3","5.4","5.5.1","5.5.2","5.6","5.7","5.8","5.9","6","6.1","6.2","6.3","7","7.1","7.2","7.3"],"paddingInner":0,"paddingOuter":0,"round":false}},
"y":{"datum":"progress","type":"nominal","bandPosition":0.95,"scale":{"type":"band","domain":["progress","due","start","t1","t2","t3","num"],"paddingInner":0,"paddingOuter":0,"round":false}},
"y2":{"datum":"num","bandPosition":0.98}}},
{"data":{"name":"doc"},"mark":{"type":"text","angle":270,"align":"left","baseline":"middle","font":"Liberation Sans","fontWeight":"bold","fontSize":55,"color":"#000000"},
"encoding":{"x":{"datum":"c0","type":"nominal","bandPosition":0.9,"scale":{"type":"band","domain":["c0","c1","c2","c3","c4","c5","c6","c7","hP","hW1","hW2","1","1.1","1.2","1.3","1.4","1.5","2","2.1","2.2","2.3","2.4","2.5","2.6","2.7","3","3.1","3.2","3.3","3.3.1","3.3.2","3.4","4","4.1","4.2","4.3","5","5.1","5.2","5.3","5.4","5.5.1","5.5.2","5.6","5.7","5.8","5.9","6","6.1","6.2","6.3","7","7.1","7.2","7.3"],"paddingInner":0,"paddingOuter":0,"round":false}},
"y":{"datum":"num","type":"nominal","bandPosition":0.92,"scale":{"type":"band","domain":["progress","due","start","t1","t2","t3","num"],"paddingInner":0,"paddingOuter":0,"round":false}},
"text":{"field":"title"}}},
{"data":{"name":"doc"},"mark":{"type":"text","angle":270,"align":"left","baseline":"middle","font":"Liberation Sans","fontSize":29.8,"color":"#666666"},
"encoding":{"x":{"datum":"c3","type":"nominal","bandPosition":0.76,"scale":{"type":"band","domain":["c0","c1","c2","c3","c4","c5","c6","c7","hP","hW1","hW2","1","1.1","1.2","1.3","1.4","1.5","2","2.1","2.2","2.3","2.4","2.5","2.6","2.7","3","3.1","3.2","3.3","3.3.1","3.3.2","3.4","4","4.1","4.2","4.3","5","5.1","5.2","5.3","5.4","5.5.1","5.5.2","5.6","5.7","5.8","5.9","6","6.1","6.2","6.3","7","7.1","7.2","7.3"],"paddingInner":0,"paddingOuter":0,"round":false}},
"y":{"datum":"num","type":"nominal","bandPosition":0.92,"scale":{"type":"band","domain":["progress","due","start","t1","t2","t3","num"],"paddingInner":0,"paddingOuter":0,"round":false}},
"text":{"field":"sub"}}},
{"data":{"name":"doc"},"mark":{"type":"text","angle":270,"align":"left","baseline":"middle","font":"Liberation Sans","fontSize":22.5,"color":"#7f7f7f"},
"encoding":{"x":{"datum":"c5","type":"nominal","bandPosition":0.05,"scale":{"type":"band","domain":["c0","c1","c2","c3","c4","c5","c6","c7","hP","hW1","hW2","1","1.1","1.2","1.3","1.4","1.5","2","2.1","2.2","2.3","2.4","2.5","2.6","2.7","3","3.1","3.2","3.3","3.3.1","3.3.2","3.4","4","4.1","4.2","4.3","5","5.1","5.2","5.3","5.4","5.5.1","5.5.2","5.6","5.7","5.8","5.9","6","6.1","6.2","6.3","7","7.1","7.2","7.3"],"paddingInner":0,"paddingOuter":0,"round":false}},
"y":{"datum":"num","type":"nominal","bandPosition":0.92,"scale":{"type":"band","domain":["progress","due","start","t1","t2","t3","num"],"paddingInner":0,"paddingOuter":0,"round":false}},
"text":{"field":"author"}}}
]
}
]
}
